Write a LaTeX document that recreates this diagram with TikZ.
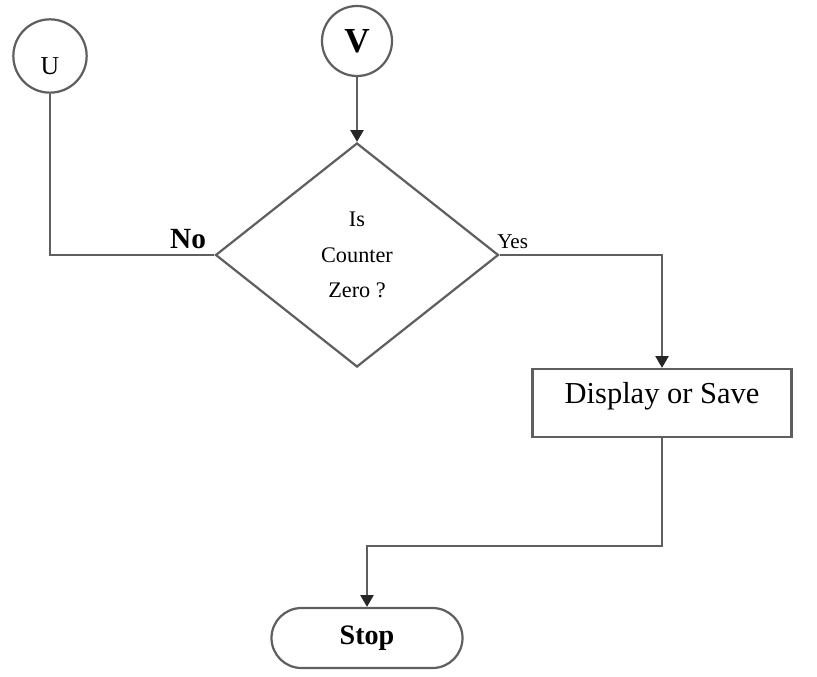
\documentclass[tikz,border=0pt]{standalone}
\usepackage{fontspec}
\setmainfont{Liberation Serif}
\usetikzlibrary{positioning,arrows.meta,shapes.geometric}
\definecolor{linegray}{RGB}{95,95,95}

\begin{document}
\begin{tikzpicture}[
  x=0.03cm, y=-0.03cm,
  conn/.style={circle, draw=linegray, line width=1.9pt, inner sep=0pt},
  decision/.style={diamond, draw=linegray, line width=1.9pt, inner sep=0pt,
                   minimum width=8.49cm, minimum height=6.72cm, align=center,
                   font=\fontsize{19}{30}\selectfont},
  process/.style={rectangle, draw=linegray, line width=1.9pt, inner sep=0pt,
                  minimum width=7.77cm, minimum height=2.04cm,
                  text height=0.6cm, text depth=0.6cm,
                  font=\fontsize{26}{30}\selectfont},
  terminal/.style={rectangle, rounded corners=0.9cm, draw=linegray, line width=1.9pt,
                   minimum width=5.73cm, minimum height=1.8cm,
                   font=\bfseries\fontsize{24}{28}\selectfont},
  line/.style={draw=linegray, line width=1.9pt},
  arr/.style={line, -{Triangle[width=11pt,length=10pt,fill=black!85,color=black!85]}}
]
\useasboundingbox (0,0) rectangle (817,677);

% connectors and steps
\node[conn, minimum size=2.2cm] (u) at (50,56) {};
\node[font=\fontsize{22}{24}\selectfont] (ulbl) at (50,66) {U};
\node[conn, minimum size=2.1cm, font=\bfseries\fontsize{30}{32}\selectfont] (v) at (357,41) {V};
\node[decision] (dec) at (357,255) {Is\\Counter\\Zero ?};
\node[process] (disp) at (662,403) {Display or Save};
\node[terminal] (stop) at (367,638) {Stop};

\draw[arr] (v) -- (dec);
\draw[line] (u) |- (dec.west)
  node[pos=0.92, above=1pt, font=\bfseries\fontsize{25}{27}\selectfont] {No};
\draw[arr] (dec.east) -| (disp.north)
  node[pos=0.04, above=1pt, font=\fontsize{18}{20}\selectfont] {Yes};
\draw[arr] (disp.south) -- ++(0,108) -| (stop.north);
\end{tikzpicture}
\end{document}
